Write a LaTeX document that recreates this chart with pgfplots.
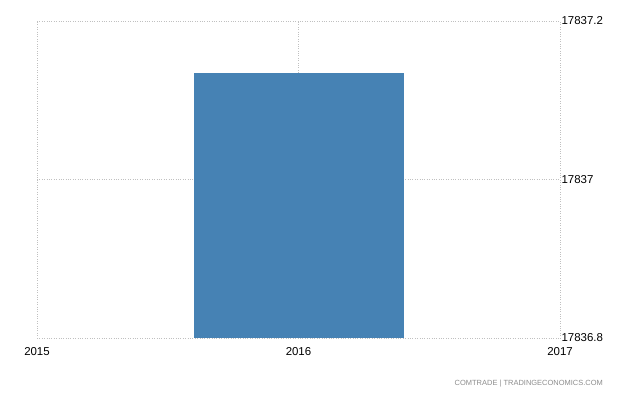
\documentclass[border=0pt]{standalone}
\usepackage{pgfplots}
\pgfplotsset{compat=1.18}
\usepackage{fontspec}
\setmainfont{Liberation Sans}
\definecolor{barblue}{HTML}{4682B4}
\definecolor{gridgray}{HTML}{C0C0C0}
\begin{document}
\begin{tikzpicture}
\path[use as bounding box] (-37bp,-62bp) rectangle (603bp,338bp);
\begin{axis}[
  at={(0,0)}, anchor=south west,
  scale only axis,
  width=523bp, height=317bp,
  xmin=2015, xmax=2017,
  ymin=17836.8, ymax=17837.2,
  xtick={2015,2016,2017},
  xticklabels={2015,2016,2017},
  ytick={17836.8,17837,17837.2},
  yticklabels={17836.8,17837,17837.2},
  scaled y ticks=false,
  axis line style={draw=none},
  major tick length=0pt,
  grid=major,
  major grid style={gridgray, dotted, line width=0.6pt},
  yticklabel pos=right,
  yticklabel style={anchor=west, xshift=-2bp, font=\fontsize{11.5}{13}\selectfont},
  xticklabel style={anchor=center, yshift=-14bp, font=\fontsize{11.5}{13}\selectfont},
  clip=true,
]
\addplot[fill=barblue, draw=none] coordinates {
  (2015.599,17836.8) (2015.599,17837.134) (2016.402,17837.134) (2016.402,17836.8)
} -- cycle;
\end{axis}
\node[anchor=east, text=gray!90, font=\fontsize{7.5}{9}\selectfont, inner sep=0pt] at (566bp,-46bp) {COMTRADE | TRADINGECONOMICS.COM};
\end{tikzpicture}
\end{document}
